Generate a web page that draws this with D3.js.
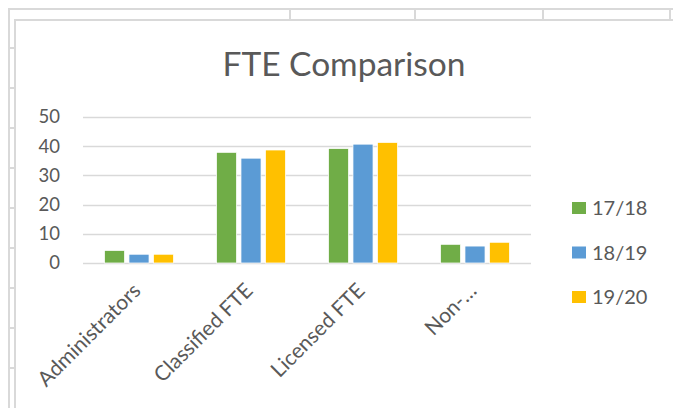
<!DOCTYPE html>
<html>
<head>
<meta charset="utf-8">
<script src="https://d3js.org/d3.v7.min.js"></script>
<style>
  body { margin: 0; background: #fff; }
  text { font-family: Lato, "Open Sans", sans-serif; fill: #595959; }
</style>
</head>
<body>
<div id="chart"></div>
<script>

// data
var categories = ["Administrators", "Classified FTE", "Licensed FTE", "Non-…"];
var seriesNames = ["17/18", "18/19", "19/20"];
var values1718 = [4.3, 37.9, 39.2, 6.4];
var values1819 = [3.0, 35.9, 40.7, 5.8];
var values1920 = [3.0, 38.7, 41.3, 7.1];
var yTicks = [0, 10, 20, 30, 40, 50];

var allValues = [values1718, values1819, values1920];
var colors = ["#70AD47", "#5B9BD5", "#FFC000"];

var W = 673, H = 408;
var plot = {left: 83, right: 531, top: 117, bottom: 263};

var svg = d3.select("#chart")
  .append("svg")
    .attr("width", W)
    .attr("height", H);

// spreadsheet cell lines behind the chart
var frame = svg.append("g")
  .attr("stroke", "#d9d9d9")
  .attr("stroke-width", 2)
  .attr("fill", "none");
frame.append("path").attr("d", "M9,408V9H673");
[290, 415, 543, 670].forEach(function(x) {
  frame.append("line").attr("x1", x).attr("x2", x).attr("y1", 9).attr("y2", 20);
});
d3.range(48, 408, 40).forEach(function(y) {
  frame.append("line").attr("x1", 9).attr("x2", 15).attr("y1", y).attr("y2", y);
});
// chart area border
frame.append("path").attr("d", "M15,408V20H673");

// title
svg.append("text")
  .attr("x", 344)
  .attr("y", 76)
  .attr("text-anchor", "middle")
  .attr("font-size", "33.5px")
  .text("FTE Comparison");

// scales
var x0 = d3.scaleBand()
  .domain(categories)
  .range([plot.left, plot.right]);

var x1 = d3.scaleBand()
  .domain(seriesNames)
  .range([21.5, x0.bandwidth() - 21.5])
  .paddingInner(0.18);

var y = d3.scaleLinear()
  .domain([0, 50])
  .range([plot.bottom, plot.top]);

// gridlines
svg.append("g")
  .selectAll("line")
  .data(yTicks)
  .enter().append("line")
    .attr("x1", plot.left)
    .attr("x2", plot.right)
    .attr("y1", function(d) { return Math.round(y(d)) + 0.5; })
    .attr("y2", function(d) { return Math.round(y(d)) + 0.5; })
    .attr("stroke", "#d9d9d9")
    .attr("stroke-width", 1.5);

// y axis labels
var yAxis = svg.append("g")
  .attr("transform", "translate(" + plot.left + ",0)")
  .call(d3.axisLeft(y).tickValues(yTicks).tickSize(0).tickPadding(23));
yAxis.select(".domain").remove();
yAxis.selectAll("text")
  .attr("font-size", "18.5px")
  .attr("fill", "#595959")
  .style("font-family", "Lato, sans-serif");

// bars
seriesNames.forEach(function(s, si) {
  svg.append("g")
    .selectAll("rect")
    .data(allValues[si])
    .enter().append("rect")
      .attr("x", function(d, i) { return x0(categories[i]) + x1(s); })
      .attr("y", function(d) { return y(d); })
      .attr("width", x1.bandwidth())
      .attr("height", function(d) { return y(0) - y(d); })
      .attr("fill", colors[si])
      .attr("stroke", "#fff")
      .attr("stroke-width", 0.75);
});

// x axis labels (rotated)
var xAxis = svg.append("g")
  .attr("transform", "translate(0," + plot.bottom + ")")
  .call(d3.axisBottom(x0).tickSize(0).tickPadding(0));
xAxis.select(".domain").remove();
xAxis.selectAll("text")
  .attr("font-size", "21px")
  .attr("fill", "#595959")
  .style("font-family", "Lato, sans-serif")
  .attr("text-anchor", "end")
  .attr("dy", 0)
  .attr("y", 0)
  .attr("transform", "translate(3,29) rotate(-45)");

// legend
var legend = svg.selectAll(".legend")
  .data(seriesNames)
  .enter().append("g")
    .attr("class", "legend")
    .attr("transform", function(d, i) {
      return "translate(572," + (208 + i * 44.5) + ")";
    });

legend.append("rect")
  .attr("y", -6)
  .attr("width", 14)
  .attr("height", 12)
  .attr("fill", function(d, i) { return colors[i]; });

legend.append("text")
  .attr("x", 20)
  .attr("dy", "0.36em")
  .attr("font-size", "20px")
  .text(function(d) { return d; });

</script>
</body>
</html>
